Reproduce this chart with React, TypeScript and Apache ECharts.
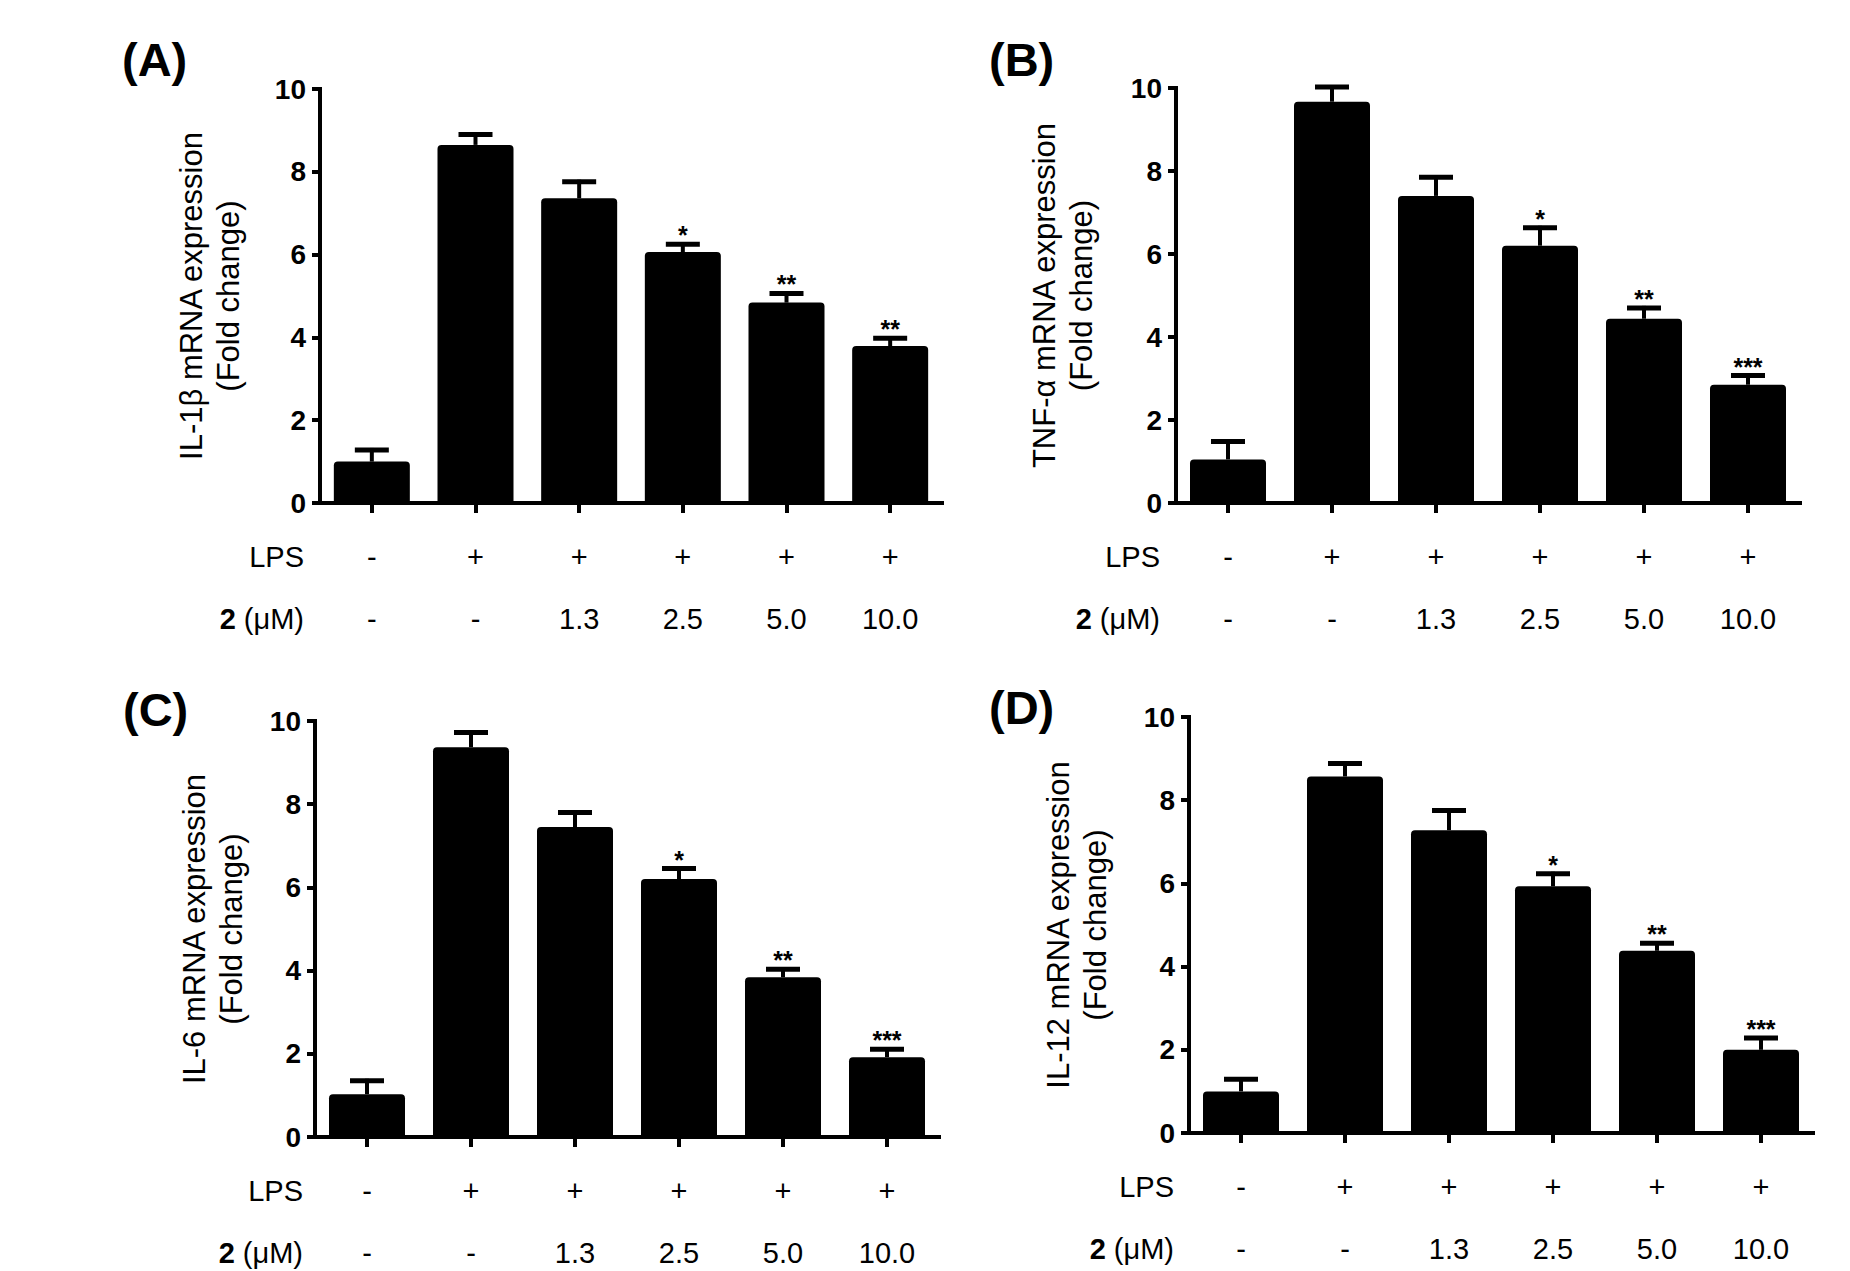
import React, { useEffect, useRef } from 'react';
import * as echarts from 'echarts';

// ---- data ----
const lpsRow = ['-', '+', '+', '+', '+', '+'];
const doseRow = ['-', '-', '1.3', '2.5', '5.0', '10.0'];
const categories = lpsRow.map((l, i) => `${l}|${doseRow[i]}`);

const il1bMean = [1.0, 8.65, 7.36, 6.06, 4.84, 3.79];
const il1bErr = [0.33, 0.3, 0.45, 0.24, 0.27, 0.24];
const il1bSig = ['', '', '', '*', '**', '**'];

const tnfMean = [1.05, 9.67, 7.4, 6.2, 4.44, 2.85];
const tnfErr = [0.48, 0.4, 0.5, 0.48, 0.31, 0.27];
const tnfSig = ['', '', '', '*', '**', '***'];

const il6Mean = [1.03, 9.37, 7.45, 6.2, 3.84, 1.92];
const il6Err = [0.37, 0.4, 0.4, 0.3, 0.24, 0.24];
const il6Sig = ['', '', '', '*', '**', '***'];

const il12Mean = [1.0, 8.57, 7.28, 5.93, 4.38, 2.0];
const il12Err = [0.34, 0.36, 0.52, 0.35, 0.23, 0.33];
const il12Sig = ['', '', '', '*', '**', '***'];

const yMin = 0;
const yMax = 10;
const yInterval = 2;

const panelLetters = ['(A)', '(B)', '(C)', '(D)'];
const panelTitles = [
  'IL-1β mRNA expression',
  'TNF-α mRNA expression',
  'IL-6 mRNA expression',
  'IL-12 mRNA expression',
];
const foldLabel = '(Fold change)';
const rowLabelLps = 'LPS';
const rowLabelDose = '{b|2} (μM)';

const panels = [
  { mean: il1bMean, err: il1bErr, sig: il1bSig },
  { mean: tnfMean, err: tnfErr, sig: tnfSig },
  { mean: il6Mean, err: il6Err, sig: il6Sig },
  { mean: il12Mean, err: il12Err, sig: il12Sig },
];

// ---- layout ----
const FONT = "'Liberation Sans', Arial, sans-serif";
const layout = [
  { left: 320, top: 89, width: 622, height: 414, nameGap: 73, letterX: 122, letterY: 59, rowX: 304 },
  { left: 1176, top: 88, width: 624, height: 415, nameGap: 76, letterX: 989, letterY: 59, rowX: 1160 },
  { left: 315, top: 721, width: 624, height: 416, nameGap: 65, letterX: 123, letterY: 709, rowX: 303 },
  { left: 1189, top: 717, width: 624, height: 416, nameGap: 75, letterX: 989, letterY: 707, rowX: 1174 },
];

export default function App() {
  const ref = useRef<HTMLDivElement>(null);

  useEffect(() => {
    if (!ref.current) return;
    const chart = echarts.init(ref.current, undefined, { renderer: 'svg' });

    const grid: any[] = [];
    const xAxis: any[] = [];
    const yAxis: any[] = [];
    const series: any[] = [];
    const graphic: any[] = [];

    panels.forEach((p, k) => {
      const L = layout[k];
      grid.push({
        left: L.left,
        top: L.top,
        width: L.width,
        height: L.height,
        containLabel: false,
        outerBoundsMode: 'none',
      });
      xAxis.push({
        type: 'category',
        gridIndex: k,
        data: categories,
        boundaryGap: true,
        axisLine: { show: true, lineStyle: { color: '#000', width: 4, cap: 'square' } },
        axisTick: { show: true, alignWithLabel: true, length: 10, lineStyle: { color: '#000', width: 4 } },
        axisLabel: {
          show: true,
          interval: 0,
          margin: 23,
          color: '#000',
          fontFamily: FONT,
          fontSize: 29,
          lineHeight: 62,
          formatter: (_v: string, i: number) => `${lpsRow[i]}\n${doseRow[i]}`,
        },
        splitLine: { show: false },
      });
      yAxis.push({
        type: 'value',
        gridIndex: k,
        min: yMin,
        max: yMax,
        interval: yInterval,
        name: `${panelTitles[k]}\n${foldLabel}`,
        nameLocation: 'middle',
        nameRotate: 90,
        nameGap: L.nameGap,
        nameTextStyle: { color: '#000', fontFamily: FONT, fontSize: 31, lineHeight: 37 },
        axisLine: { show: true, lineStyle: { color: '#000', width: 4, cap: 'square' } },
        axisTick: { show: true, length: 8, lineStyle: { color: '#000', width: 4 } },
        axisLabel: { color: '#000', fontFamily: FONT, fontSize: 28, fontWeight: 'bold', margin: 14 },
        splitLine: { show: false },
      });
      series.push({
        type: 'bar',
        xAxisIndex: k,
        yAxisIndex: k,
        data: p.mean,
        barWidth: 76,
        itemStyle: { color: '#000', borderRadius: [4, 4, 0, 0] },
        z: 2,
      });
      series.push({
        type: 'custom',
        xAxisIndex: k,
        yAxisIndex: k,
        z: 3,
        encode: { x: 0, y: 1 },
        data: p.mean.map((m, i) => [i, m, p.err[i]]),
        renderItem: (params: any, api: any) => {
          const i = api.value(0);
          const m = api.value(1);
          const e = api.value(2);
          const base = api.coord([i, m]);
          const top = api.coord([i, m + e]);
          const sig = p.sig[params.dataIndex];
          const children: any[] = [
            {
              type: 'line',
              shape: { x1: base[0], y1: base[1], x2: top[0], y2: top[1] },
              style: { stroke: '#000', lineWidth: 4 },
            },
            {
              type: 'line',
              shape: { x1: top[0] - 17, y1: top[1] + 2, x2: top[0] + 17, y2: top[1] + 2 },
              style: { stroke: '#000', lineWidth: 5 },
            },
          ];
          if (sig) {
            children.push({
              type: 'text',
              x: top[0],
              y: top[1] - 7,
              style: {
                text: sig,
                fill: '#000',
                fontSize: 25,
                fontWeight: 'bold',
                fontFamily: FONT,
                align: 'center',
                verticalAlign: 'middle',
              },
            });
          }
          return { type: 'group', children };
        },
      });

      const axisY = L.top + L.height;
      graphic.push({
        type: 'text',
        x: L.letterX,
        y: L.letterY,
        style: {
          text: panelLetters[k],
          fill: '#000',
          fontSize: 47,
          fontWeight: 'bold',
          fontFamily: FONT,
          align: 'left',
          verticalAlign: 'middle',
        },
      });
      graphic.push({
        type: 'text',
        x: L.rowX,
        y: axisY + 54,
        style: {
          text: rowLabelLps,
          fill: '#000',
          fontSize: 29,
          fontFamily: FONT,
          align: 'right',
          verticalAlign: 'middle',
        },
      });
      graphic.push({
        type: 'text',
        x: L.rowX,
        y: axisY + 116,
        style: {
          text: rowLabelDose,
          fill: '#000',
          fontSize: 29,
          fontFamily: FONT,
          align: 'right',
          verticalAlign: 'middle',
          rich: { b: { fontWeight: 'bold', fontSize: 29, fontFamily: FONT, fill: '#000' } },
        },
      });
    });

    chart.setOption({
      animation: false,
      backgroundColor: '#fff',
      grid,
      xAxis,
      yAxis,
      series,
      graphic,
    });

    return () => chart.dispose();
  }, []);

  return (
    <div
      ref={ref}
      style={{ position: 'fixed', left: 0, top: 0, width: 1850, height: 1271, background: '#fff' }}
    />
  );
}
